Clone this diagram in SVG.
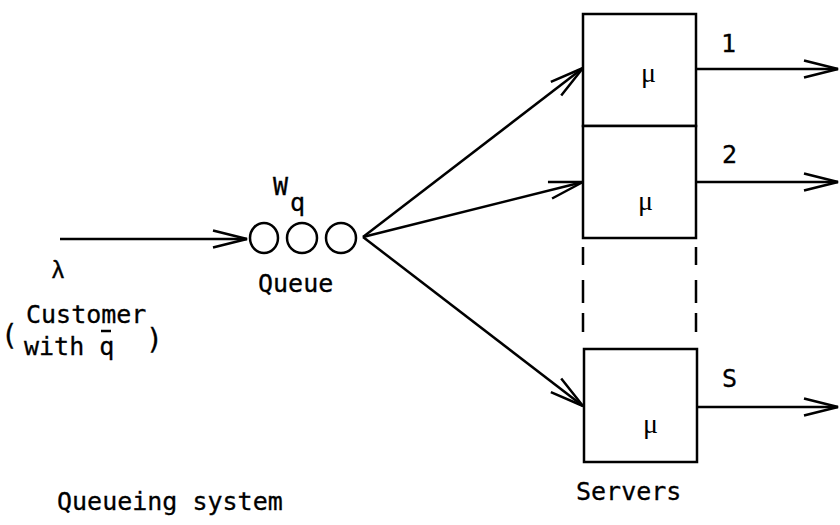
<svg xmlns="http://www.w3.org/2000/svg" width="840" height="525" viewBox="0 0 840 525">
  <style>
    .ln { stroke: #000; stroke-width: 2.5; fill: none; }
    .box { stroke: #000; stroke-width: 2.5; fill: #fff; }
    .txt { font-family: "DejaVu Sans Mono", "Liberation Mono", monospace; font-size: 25px; fill: #000; stroke: #000; stroke-width: 0.3; }
    .sym { font-family: "Liberation Serif", "DejaVu Serif", serif; font-size: 28px; fill: #000; }
    .lam { font-family: "Liberation Sans", "DejaVu Sans", sans-serif; font-size: 24px; fill: #000; stroke: #000; stroke-width: 0.4; }
    .arr { marker-end: url(#head); }
  </style>
  <defs>
    <marker id="head" markerUnits="userSpaceOnUse" markerWidth="40" markerHeight="24" viewBox="-36 -12 40 24" refX="0" refY="0" orient="auto">
      <path d="M-34,-8.5 L0,0 L-34,8.5" fill="none" stroke="#000" stroke-width="2.5" stroke-linejoin="miter"/>
    </marker>
  </defs>

  <!-- connectors -->
  <g id="connectors">
    <line class="ln arr" x1="60" y1="239" x2="247" y2="239"/>
    <line class="ln arr" x1="363" y1="237" x2="583" y2="68"/>
    <line class="ln arr" x1="363" y1="237" x2="583" y2="182"/>
    <line class="ln arr" x1="363" y1="237" x2="583" y2="406"/>
    <line class="ln arr" x1="696" y1="69" x2="838" y2="69"/>
    <line class="ln arr" x1="696" y1="182" x2="838" y2="182"/>
    <line class="ln arr" x1="697" y1="407" x2="838" y2="407"/>
  </g>

  <!-- arrival stream -->
  <g id="arrivals">
    <text class="lam" x="52" y="278">λ</text>
    <text class="txt" x="1" y="345" style="font-size:28px">(</text>
    <text class="txt" x="26" y="323">Customer</text>
    <text class="txt" x="24" y="355">with q</text>
    <line x1="101" y1="331" x2="111" y2="331" stroke="#000" stroke-width="2.5"/>
    <text class="txt" x="146" y="349" style="font-size:28px">)</text>
  </g>

  <!-- waiting line -->
  <g id="queue">
    <ellipse class="ln" cx="264" cy="238" rx="14" ry="15"/>
    <ellipse class="ln" cx="302" cy="238" rx="15" ry="15"/>
    <ellipse class="ln" cx="341" cy="238" rx="15" ry="15"/>
    <text class="txt" x="273" y="195">W</text>
    <text class="txt" x="290" y="211">q</text>
    <text class="txt" x="258" y="292">Queue</text>
  </g>

  <!-- service channels -->
  <g id="server-1">
    <rect class="box" x="583" y="14" width="113" height="112"/>
    <text class="sym" x="641" y="82">μ</text>
    <text class="txt" x="721" y="52">1</text>
  </g>
  <g id="server-2">
    <rect class="box" x="583" y="126" width="113" height="112"/>
    <text class="sym" x="638" y="210">μ</text>
    <text class="txt" x="722" y="163">2</text>
  </g>
  <g id="server-gap">
    <path class="ln" d="M583,247 V265 M583,280 V303 M583,313 V332 M696,247 V265 M696,280 V303 M696,313 V332"/>
  </g>
  <g id="server-s">
    <rect class="box" x="584" y="349" width="113" height="113"/>
    <text class="sym" x="643" y="433">μ</text>
    <text class="txt" x="722" y="387">S</text>
    <text class="txt" x="576" y="500">Servers</text>
  </g>

  <g id="caption">
    <text class="txt" x="57" y="510">Queueing system</text>
  </g>
</svg>
